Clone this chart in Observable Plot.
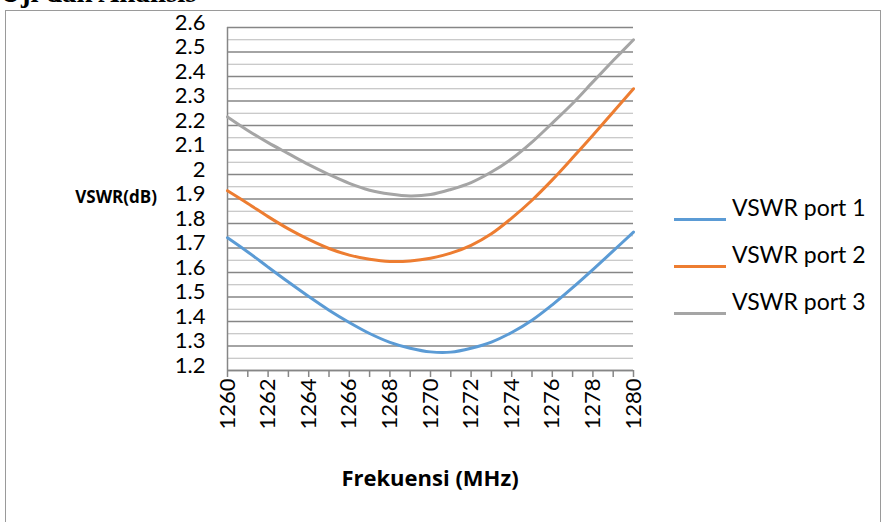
<!DOCTYPE html>
<html>
<head>
<meta charset="utf-8">
<script src="https://cdn.jsdelivr.net/npm/d3@7"></script>
<script src="https://cdn.jsdelivr.net/npm/@observablehq/plot@0.6"></script>
<style>
  html, body { margin: 0; padding: 0; background: #fff; }
  body { width: 882px; height: 522px; overflow: hidden; position: relative; font-family: Lato, "Open Sans", sans-serif; color: #000; }
  #title { position: absolute; left: 0px; top: -23px; font: bold 29px "Liberation Serif", serif; white-space: nowrap; line-height: 30px; }
  #frame { position: absolute; left: 5px; top: 10px; width: 876px; height: 514px; border: 1px solid #9a9a9a; box-sizing: border-box; }
  #chart { position: absolute; left: 0; top: 0; }
  #ytitle { position: absolute; right: 725px; top: 185px; font-family: "Open Sans", sans-serif; font-weight: bold; font-size: 17px; line-height: 24px; white-space: nowrap; }
  #xtitle { position: absolute; left: 230px; width: 400px; top: 462px; text-align: center; font-family: "Open Sans", sans-serif; font-weight: bold; font-size: 22px; line-height: 30px; white-space: nowrap; }
  #legend { position: absolute; left: 674px; top: 190px; }
  .item { position: relative; height: 47px; }
  .swatch { position: absolute; left: 0; top: 28px; width: 52px; height: 3px; }
  .lab { position: absolute; left: 58px; top: 3px; font-size: 23px; line-height: 28px; white-space: nowrap; }
</style>
</head>
<body>
<div id="title">Uji dan Analisis</div>
<div id="frame"></div>
<div id="chart"></div>
<div id="ytitle">VSWR(dB)</div>
<div id="xtitle">Frekuensi (MHz)</div>
<div id="legend"></div>
<script>
// ---- data ----
const freq = [1260,1261,1262,1263,1264,1265,1266,1267,1268,1269,1270,1271,1272,1273,1274,1275,1276,1277,1278,1279,1280];
const port1 = [1.742,1.684,1.622,1.561,1.502,1.446,1.396,1.351,1.315,1.291,1.276,1.275,1.291,1.316,1.355,1.405,1.468,1.538,1.612,1.688,1.765];
const port2 = [1.934,1.882,1.828,1.778,1.735,1.698,1.671,1.654,1.645,1.647,1.658,1.679,1.711,1.758,1.822,1.895,1.978,2.068,2.160,2.255,2.350];
const port3 = [2.235,2.180,2.130,2.085,2.040,2.000,1.964,1.936,1.920,1.912,1.918,1.939,1.967,2.010,2.064,2.132,2.210,2.290,2.378,2.465,2.550];
const seriesNames = ["VSWR port 1", "VSWR port 2", "VSWR port 3"];
const seriesColors = ["#5B9BD5", "#ED7D31", "#A5A5A5"];
const yTickLabels = [1.2,1.3,1.4,1.5,1.6,1.7,1.8,1.9,2.0,2.1,2.2,2.3,2.4,2.5,2.6];
const yMinorTicks = [1.25,1.35,1.45,1.55,1.65,1.75,1.85,1.95,2.05,2.15,2.25,2.35,2.45,2.55];
const xTickLabels = [1260,1262,1264,1266,1268,1270,1272,1274,1276,1278,1280];

// ---- build table ----
const allSeries = [port1, port2, port3];
const rows = [];
allSeries.forEach((vals, i) => vals.forEach((v, j) => rows.push({series: seriesNames[i], freq: freq[j], vswr: v})));

const axisColor = "#868686";
const chart = Plot.plot({
  width: 882,
  height: 522,
  marginLeft: 227,
  marginRight: 249,
  marginTop: 27,
  marginBottom: 152,
  style: {fontFamily: "Lato, 'Open Sans', sans-serif", color: "#000", background: "transparent"},
  x: {domain: [1260, 1280]},
  y: {domain: [1.2, 2.6]},
  color: {domain: seriesNames, range: seriesColors},
  marks: [
    Plot.ruleY(yMinorTicks, {stroke: "#b8b8b8", strokeWidth: 1.2}),
    Plot.ruleY(yTickLabels, {stroke: axisColor, strokeWidth: 1.5}),
    Plot.axisY(yTickLabels, {tickSize: 0, tickPadding: 22, fontSize: 22, dy: -5, label: null,
      tickFormat: d => String(+d.toFixed(1))}),
    Plot.axisX(freq, {tickSize: 7, tickFormat: () => "", label: null, stroke: axisColor, strokeWidth: 1.5}),
    Plot.axisX(xTickLabels, {tickSize: 0, tickPadding: 8, tickRotate: -90, fontSize: 22, label: null,
      tickFormat: d => String(d)}),
    Plot.ruleX([1260], {stroke: axisColor, strokeWidth: 1.5}),
    Plot.ruleY([1.2], {stroke: axisColor, strokeWidth: 1.5}),
    Plot.line(rows, {x: "freq", y: "vswr", z: "series", stroke: "series", strokeWidth: 3, curve: "catmull-rom"})
  ]
});
document.getElementById("chart").appendChild(chart);

// ---- legend ----
const legend = document.getElementById("legend");
seriesNames.forEach((name, i) => {
  const item = document.createElement("div");
  item.className = "item";
  const sw = document.createElement("div");
  sw.className = "swatch";
  sw.style.background = seriesColors[i];
  const lab = document.createElement("div");
  lab.className = "lab";
  lab.textContent = name;
  item.appendChild(sw);
  item.appendChild(lab);
  legend.appendChild(item);
});
</script>
</body>
</html>
